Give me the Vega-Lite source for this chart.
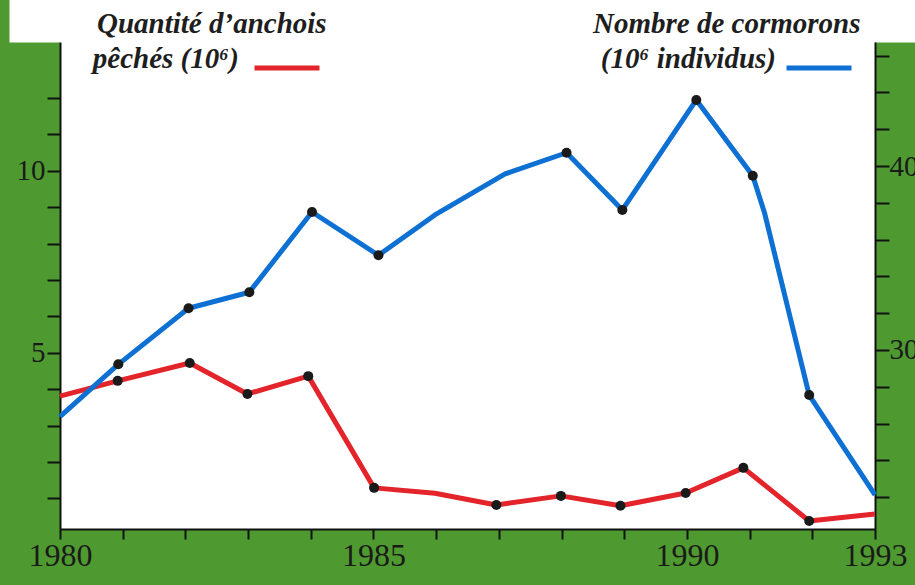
{
  "$schema": "https://vega.github.io/schema/vega-lite/v6.json",
  "width": 815,
  "height": 487,
  "autosize": {"type": "none"},
  "padding": {"left": 60, "top": 42, "right": 40, "bottom": 56},
  "background": "#4f9a30",
  "config": {
    "view": {"fill": "white", "stroke": null},
    "axis": {
      "grid": false,
      "title": null,
      "domainColor": "#111111",
      "domainWidth": 2,
      "tickColor": "#111111",
      "tickWidth": 2,
      "labelColor": "#1a1a1a",
      "labelFont": "Liberation Serif",
      "labelFontSize": 29,
      "labelOverlap": false,
      "labelFlush": false
    },
    "legend": {"padding": 0}
  },
  "data": {
    "values": [
      {"serie": "anchois", "annee": 1980, "valeur": 3.81, "mesure": false},
      {"serie": "anchois", "annee": 1980.92, "valeur": 4.23, "mesure": true},
      {"serie": "anchois", "annee": 1982.07, "valeur": 4.72, "mesure": true},
      {"serie": "anchois", "annee": 1982.99, "valeur": 3.87, "mesure": true},
      {"serie": "anchois", "annee": 1983.96, "valeur": 4.36, "mesure": true},
      {"serie": "anchois", "annee": 1985.01, "valeur": 1.29, "mesure": true},
      {"serie": "anchois", "annee": 1985.98, "valeur": 1.14, "mesure": false},
      {"serie": "anchois", "annee": 1986.96, "valeur": 0.82, "mesure": true},
      {"serie": "anchois", "annee": 1987.99, "valeur": 1.07, "mesure": true},
      {"serie": "anchois", "annee": 1988.94, "valeur": 0.8, "mesure": true},
      {"serie": "anchois", "annee": 1989.98, "valeur": 1.15, "mesure": true},
      {"serie": "anchois", "annee": 1990.9, "valeur": 1.84, "mesure": true},
      {"serie": "anchois", "annee": 1991.95, "valeur": 0.38, "mesure": true},
      {"serie": "anchois", "annee": 1993, "valeur": 0.57, "mesure": false},
      {"serie": "cormorans", "annee": 1980, "valeur": 26.38, "mesure": false},
      {"serie": "cormorans", "annee": 1980.93, "valeur": 29.22, "mesure": true},
      {"serie": "cormorans", "annee": 1982.05, "valeur": 32.27, "mesure": true},
      {"serie": "cormorans", "annee": 1983.02, "valeur": 33.14, "mesure": true},
      {"serie": "cormorans", "annee": 1984.02, "valeur": 37.5, "mesure": true},
      {"serie": "cormorans", "annee": 1985.08, "valeur": 35.15, "mesure": true},
      {"serie": "cormorans", "annee": 1985.98, "valeur": 37.34, "mesure": false},
      {"serie": "cormorans", "annee": 1987.1, "valeur": 39.57, "mesure": false},
      {"serie": "cormorans", "annee": 1988.08, "valeur": 40.72, "mesure": true},
      {"serie": "cormorans", "annee": 1988.97, "valeur": 37.61, "mesure": true},
      {"serie": "cormorans", "annee": 1990.15, "valeur": 43.59, "mesure": true},
      {"serie": "cormorans", "annee": 1991.05, "valeur": 39.47, "mesure": true},
      {"serie": "cormorans", "annee": 1991.24, "valeur": 37.43, "mesure": false},
      {"serie": "cormorans", "annee": 1991.95, "valeur": 27.55, "mesure": true},
      {"serie": "cormorans", "annee": 1993, "valeur": 22.12, "mesure": false}
    ]
  },
  "layer": [
    {
      "transform": [{"filter": "datum.serie == 'anchois'"}],
      "encoding": {
        "x": {
          "field": "annee",
          "type": "quantitative",
          "scale": {"domain": [1980, 1993], "nice": false, "zero": false},
          "axis": {
            "orient": "bottom",
            "values": [1980, 1981, 1982, 1983, 1984, 1985, 1986, 1987, 1988, 1989, 1990, 1991, 1992, 1993],
            "format": "d",
            "labelExpr": "(datum.value % 5 == 0 || datum.value == 1993) ? datum.label : ''",
            "tickSize": 10,
            "labelFontSize": 32,
            "labelPadding": 1
          }
        },
        "y": {
          "field": "valeur",
          "type": "quantitative",
          "scale": {"domain": [0.16, 13.54], "nice": false, "zero": false},
          "axis": {
            "orient": "left",
            "values": [1, 2, 3, 4, 5, 6, 7, 8, 9, 10, 11, 12],
            "labelExpr": "datum.value % 5 == 0 ? datum.label : ''",
            "tickSize": 13,
            "labelPadding": 2
          }
        }
      },
      "layer": [
        {
          "mark": {"type": "line", "strokeWidth": 5, "strokeJoin": "round"},
          "encoding": {
            "stroke": {
              "field": "serie",
              "type": "nominal",
              "scale": {"domain": ["anchois"], "range": ["#e3242b"]},
              "legend": {
                "orient": "none",
                "legendX": 37,
                "legendY": -32,
                "title": "Quantité d’anchois",
                "titleFont": "Liberation Serif",
                "titleFontSize": 29,
                "titleFontWeight": "bold",
                "titleFontStyle": "italic",
                "titleColor": "#1e1e1e",
                "titleAnchor": "start",
                "titlePadding": -6,
                "titleLimit": 500,
                "labelExpr": "'pêchés (10⁶)'",
                "labelFont": "Liberation Serif",
                "labelFontSize": 29,
                "labelFontWeight": "bold",
                "labelFontStyle": "italic",
                "labelColor": "#1e1e1e",
                "labelAlign": "right",
                "labelBaseline": "alphabetic",
                "labelOffset": -83,
                "labelLimit": 500,
                "symbolType": "stroke",
                "symbolSize": 4225,
                "symbolStrokeWidth": 5,
                "symbolOffset": 155
              }
            }
          }
        },
        {
          "transform": [{"filter": "datum.mesure"}],
          "mark": {"type": "circle", "size": 100, "color": "#1a1a1a", "opacity": 1}
        }
      ]
    },
    {
      "transform": [{"filter": "datum.serie == 'cormorans'"}],
      "encoding": {
        "x": {
          "field": "annee",
          "type": "quantitative",
          "scale": {"domain": [1980, 1993], "nice": false, "zero": false},
          "axis": {
            "orient": "top",
            "offset": 51,
            "domainColor": "white",
            "domainWidth": 102,
            "domainCap": "square",
            "ticks": false,
            "labels": false
          }
        },
        "y": {
          "field": "valeur",
          "type": "quantitative",
          "scale": {"domain": [20.27, 46.74], "nice": false, "zero": false},
          "axis": {
            "orient": "right",
            "values": [22, 24, 26, 28, 30, 32, 34, 36, 38, 40, 42, 44, 46],
            "labelExpr": "datum.value % 10 == 0 ? datum.label : ''",
            "tickSize": 14,
            "labelPadding": 0
          }
        }
      },
      "layer": [
        {
          "mark": {"type": "line", "strokeWidth": 5, "strokeJoin": "round"},
          "encoding": {
            "stroke": {
              "field": "serie",
              "type": "nominal",
              "scale": {"domain": ["cormorans"], "range": ["#0e70d2"]},
              "legend": {
                "orient": "none",
                "legendX": 533,
                "legendY": -32,
                "title": "Nombre de cormorons",
                "titleFont": "Liberation Serif",
                "titleFontSize": 29,
                "titleFontWeight": "bold",
                "titleFontStyle": "italic",
                "titleColor": "#1e1e1e",
                "titleAnchor": "start",
                "titlePadding": -6,
                "titleLimit": 500,
                "labelExpr": "'(10⁶ individus)'",
                "labelFont": "Liberation Serif",
                "labelFontSize": 29,
                "labelFontWeight": "bold",
                "labelFontStyle": "italic",
                "labelColor": "#1e1e1e",
                "labelAlign": "right",
                "labelBaseline": "alphabetic",
                "labelOffset": -78,
                "labelLimit": 500,
                "symbolType": "stroke",
                "symbolSize": 4225,
                "symbolStrokeWidth": 5,
                "symbolOffset": 191
              }
            }
          }
        },
        {
          "transform": [{"filter": "datum.mesure"}],
          "mark": {"type": "circle", "size": 100, "color": "#1a1a1a", "opacity": 1}
        }
      ]
    }
  ],
  "resolve": {
    "scale": {"y": "independent", "stroke": "independent"},
    "axis": {"x": "independent"}
  }
}
